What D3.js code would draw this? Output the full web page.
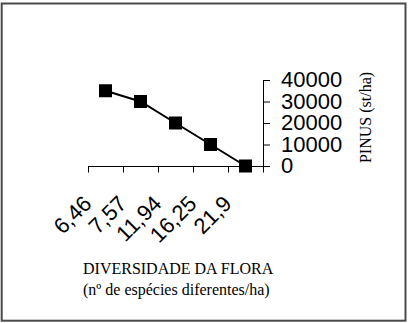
<!DOCTYPE html>
<html>
<head>
<meta charset="utf-8">
<script src="https://cdn.jsdelivr.net/npm/d3@7"></script>
<style>
html,body{margin:0;padding:0;background:#fff;}
svg{display:block;}
</style>
</head>
<body>
<svg id="chart" width="412" height="323"></svg>
<script>
const categories = ["6,46", "7,57", "11,94", "16,25", "21,9"];
const pinusValues = [35000, 30000, 20000, 10000, 0];
const yTicks = [0, 10000, 20000, 30000, 40000];
const xTitle = "DIVERSIDADE DA FLORA";
const xSubtitle = "(nº de espécies diferentes/ha)";
const yTitle = "PINUS (st/ha)";

const svg = d3.select("#chart");
const sans = "'Liberation Sans', Arial, Helvetica, sans-serif";
const serif = "'Liberation Serif', 'Times New Roman', serif";

// frame
svg.append("rect")
  .attr("x", 1.7).attr("y", 3.5).attr("width", 403.8).attr("height", 317.2)
  .attr("fill", "#fff").attr("stroke", "#4a4a4a").attr("stroke-width", 2);

const x = d3.scaleBand().domain(categories).range([88, 263]).padding(0);
const y = d3.scaleLinear().domain([0, 40000]).range([166, 80]);
const axisX = x.range()[1];

// x axis
const gx = svg.append("g").attr("stroke", "#000").attr("stroke-width", 1);
gx.append("line")
  .attr("x1", x.range()[0]).attr("x2", axisX + 7)
  .attr("y1", y(0) + 0.5).attr("y2", y(0) + 0.5);
const tickPos = categories.map(c => x(c)).concat([x.range()[1]]);
gx.selectAll("line.tick").data(tickPos).enter().append("line")
  .attr("class", "tick")
  .attr("x1", d => Math.round(d) + 0.5).attr("x2", d => Math.round(d) + 0.5)
  .attr("y1", y(0)).attr("y2", y(0) + 6.5);

svg.append("g").selectAll("text").data(categories).enter().append("text")
  .attr("transform", d => `translate(${x(d) + 5},${y(0) + 39}) rotate(-45)`)
  .attr("text-anchor", "end")
  .attr("font-family", sans).attr("font-size", 22)
  .attr("fill", "#000")
  .text(d => d);

// y axis
const yAxis = d3.axisRight(y).tickValues(yTicks).tickSize(7).tickSizeOuter(0).tickPadding(11)
  .tickFormat(d3.format("d"));
const gy = svg.append("g").attr("transform", `translate(${axisX},0)`).call(yAxis);
gy.select(".domain").attr("stroke", "#000");
gy.selectAll(".tick line").attr("stroke", "#000");
gy.selectAll(".tick text")
  .attr("font-family", sans).attr("font-size", 22).attr("fill", "#000")
  .attr("dy", "0.3em");

// line + markers
const line = d3.line()
  .x((d, i) => x(categories[i]) + x.bandwidth() / 2)
  .y(d => y(d));
svg.append("path").datum(pinusValues)
  .attr("d", line).attr("fill", "none").attr("stroke", "#000").attr("stroke-width", 2);
const sz = 13;
svg.append("g").selectAll("rect").data(pinusValues).enter().append("rect")
  .attr("x", (d, i) => x(categories[i]) + x.bandwidth() / 2 - sz / 2)
  .attr("y", d => y(d) - sz / 2)
  .attr("width", sz).attr("height", sz).attr("fill", "#000");

// titles
svg.append("text")
  .attr("transform", `translate(371,117.5) rotate(-90)`)
  .attr("text-anchor", "middle")
  .attr("font-family", serif).attr("font-size", 16).attr("fill", "#000")
  .text(yTitle);
svg.append("text")
  .attr("x", 83).attr("y", 274)
  .attr("font-family", serif).attr("font-size", 16).attr("fill", "#000")
  .text(xTitle);
svg.append("text")
  .attr("x", 83).attr("y", 294.5)
  .attr("font-family", serif).attr("font-size", 16).attr("fill", "#000")
  .text(xSubtitle);
</script>
</body>
</html>
